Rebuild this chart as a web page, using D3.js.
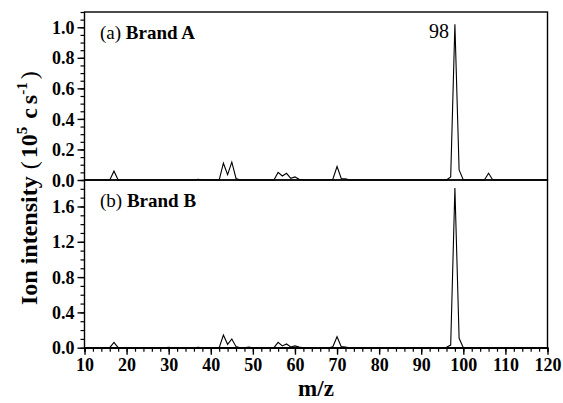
<!DOCTYPE html>
<html><head><meta charset="utf-8">
<script src="https://cdn.jsdelivr.net/npm/d3@7"></script>
<style>
body{margin:0;background:#fff;}
text{font-family:"Liberation Serif","Times New Roman",serif;fill:#000;}
</style></head>
<body><svg id="c" width="563" height="403"></svg>
<script>
// Data (m/z, ion intensity in 10^5 c/s)
const mzA  = [10,16,17,18,36,37,38,42,43,44,45,46,47,55,56,57,58,59,60,61,62,68,69,70,71,72,73,96,97,98,99,100,105,106,107,120];
const valA = [0,0,0.058,0,0,0.005,0,0,0.11,0.035,0.117,0.01,0,0,0.05,0.026,0.044,0.011,0.02,0.005,0,0,0.005,0.088,0.01,0.008,0,0,0.02,1.02,0.066,0,0,0.044,0,0];
const mzB  = [10,16,17,18,29,30,31,36,37,38,42,43,44,45,46,47,48,49,50,55,56,57,58,59,60,61,62,68,69,70,71,72,73,95,96,97,98,99,100,120];
const valB = [0,0,0.061,0,0,0.004,0,0,0.005,0,0,0.144,0.038,0.099,0.012,0,0,0.006,0,0,0.061,0.02,0.042,0.008,0.02,0.008,0,0,0.01,0.125,0.012,0.008,0,0,0.005,0.03,1.81,0.107,0,0];
const xTicks = [10,20,30,40,50,60,70,80,90,100,110,120];
const yTicksA = [0,0.2,0.4,0.6,0.8,1.0];
const yTicksB = [0,0.4,0.8,1.2,1.6];
const panelLabels = [["(a) ","Brand A"],["(b) ","Brand B"]];
const peakLabel = {mz:98, text:"98"};

const svg = d3.select("#c");
const L = 84.5, R = 547.5;
const x = d3.scaleLinear().domain([10,120]).range([L,R]);
const yA = d3.scaleLinear().domain([0,1.1]).range([180,12]);
const yB = d3.scaleLinear().domain([0,1.9]).range([347.7,180]);

function panel(y, mz, val, majors, minorStep, label){
  const g = svg.append("g");
  const [y0,y1] = y.range();
  const line = d3.line().x((d,i)=>x(mz[i])).y(d=>y(d));
  g.append("path").attr("d", line(val)).attr("fill","none").attr("stroke","#000").attr("stroke-width",1.1);
  g.append("rect").attr("x",L).attr("y",y1).attr("width",R-L).attr("height",y0-y1)
    .attr("fill","none").attr("stroke","#000").attr("stroke-width",1.4);
  const ymax = y.domain()[1];
  const minors = d3.range(0, ymax+1e-6, minorStep);
  g.append("g").attr("transform",`translate(${L},0)`)
    .call(d3.axisLeft(y).tickValues(minors).tickSize(4).tickFormat(""))
    .call(s=>{s.select(".domain").remove(); s.selectAll("line").attr("stroke-width",1.2);});
  g.append("g").attr("transform",`translate(${L},0)`)
    .call(d3.axisLeft(y).tickValues(majors).tickSize(7).tickPadding(3).tickFormat(d3.format(".1f")))
    .call(s=>{s.select(".domain").remove(); s.selectAll("line").attr("stroke-width",1.4);
      s.selectAll("text").attr("font-family","Liberation Serif").attr("font-weight","bold").attr("font-size",18).attr("dy","0.34em");});
  const t = g.append("text").attr("x",100).attr("y",y1+27).attr("font-size",19);
  t.append("tspan").text(label[0]);
  t.append("tspan").attr("font-weight","bold").text(label[1]);
}
panel(yA, mzA, valA, yTicksA, 0.05, panelLabels[0]);
panel(yB, mzB, valB, yTicksB, 0.1, panelLabels[1]);

// x axis
svg.append("g").attr("transform","translate(0,347.7)")
  .call(d3.axisBottom(x).tickValues(d3.range(10,121,2)).tickSize(4).tickFormat(""))
  .call(s=>{s.select(".domain").attr("stroke-width",1.4); s.selectAll("line").attr("stroke-width",1.2);});
svg.append("g").attr("transform","translate(0,347.7)")
  .call(d3.axisBottom(x).tickValues(xTicks).tickSize(7).tickPadding(4).tickFormat(d3.format("d")))
  .call(s=>{s.select(".domain").remove(); s.selectAll("line").attr("stroke-width",1.4);
    s.selectAll("text").attr("font-family","Liberation Serif").attr("font-weight","bold").attr("font-size",18);});

// peak label
svg.append("text").attr("x",x(peakLabel.mz)-6).attr("y",38).attr("text-anchor","end").attr("font-size",20).text(peakLabel.text);

// axis titles
svg.append("text").attr("x",(L+R)/2).attr("y",396).attr("text-anchor","middle")
  .attr("font-weight","bold").attr("font-size",23).text("m/z");
const yl = svg.append("text").attr("transform","translate(37,305) rotate(-90)").attr("text-anchor","start")
  .attr("font-weight","bold").attr("font-size",24);
yl.append("tspan").text("Ion intensity");
yl.append("tspan").attr("dx",7).attr("font-weight","normal").text("(");
yl.append("tspan").attr("dx",3).text("10");
yl.append("tspan").attr("dy",-10).attr("font-size",15).text("5");
yl.append("tspan").attr("dy",10).attr("dx",8).text("c");
yl.append("tspan").attr("dx",4).text("s");
yl.append("tspan").attr("dy",-10).attr("font-size",15).text("-1");
yl.append("tspan").attr("dy",10).attr("dx",3).attr("font-weight","normal").text(")");
</script></body></html>
